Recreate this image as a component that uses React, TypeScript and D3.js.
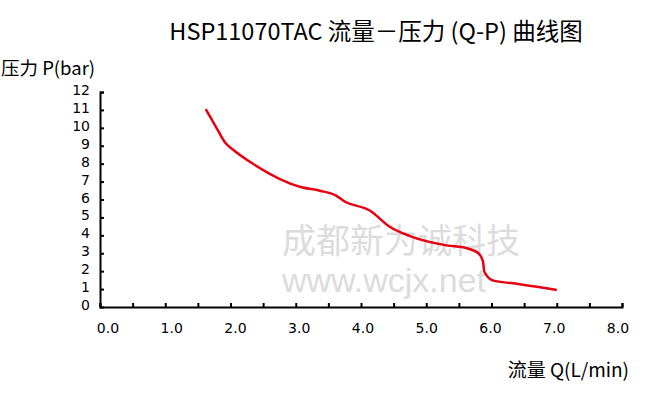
import { useRef, useEffect } from 'react';
import * as d3 from 'd3';

// flow Q (L/min) vs pressure P (bar)
const flowQ = [1.62, 1.77, 1.92, 2.05, 2.35, 3.09, 3.37, 3.63, 3.73, 4.14, 4.44, 4.75, 5.31, 5.62, 5.80, 5.87, 5.89, 6.03, 6.33, 7.0];
const pressureP = [11.05, 10.1, 9.17, 8.75, 7.98, 6.68, 6.49, 6.19, 5.93, 5.37, 4.48, 3.96, 3.44, 3.28, 3.0, 2.53, 1.97, 1.47, 1.32, 0.95];

const xTickValues = d3.range(0, 8.001, 0.5);
const xLabelValues = [0, 1, 2, 3, 4, 5, 6, 7, 8];
const yTickValues = [1, 2, 3, 4, 5, 6, 7, 8, 9, 10, 11, 12];
const yLabelValues = [0, 1, 2, 3, 4, 5, 6, 7, 8, 9, 10, 11, 12];

const title = "HSP11070TAC 流量－压力 (Q-P) 曲线图";
const yTitle = "压力 P(bar)";
const xTitle = "流量 Q(L/min)";
const watermarkCn = "成都新为诚科技";
const watermarkUrl = "www.wcjx.net";

const width = 650;
const height = 398;
const margin = { top: 92, right: 28, bottom: 91, left: 100 };
const font = "'Noto Sans CJK SC', 'Noto Sans', sans-serif";
const tickFont = "'DejaVu Sans', sans-serif";

export default function App() {
  const svgRef = useRef<SVGSVGElement>(null);

  useEffect(() => {
    const svg = d3.select(svgRef.current);
    if (!svg.node()) return;
    svg.selectAll("*").remove();

    const x = d3.scaleLinear().domain([0, 8]).range([margin.left, width - margin.right]);
    const y = d3.scaleLinear().domain([0, 12]).range([height - margin.bottom, margin.top]);
    // tick labels in the source sit slightly inset from the ticks
    const xLabel = d3.scaleLinear().domain([0, 8]).range([108, 618]);

    // watermark
    svg.append("text")
      .attr("x", 282)
      .attr("y", 253)
      .style("font-family", font)
      .style("font-size", "34px")
      .style("fill", "#dcdcdc")
      .text(watermarkCn);
    svg.append("text")
      .attr("x", 282)
      .attr("y", 292)
      .style("font-family", "'Liberation Sans', Arial, sans-serif")
      .style("font-size", "34px")
      .style("fill", "#dcdcdc")
      .text(watermarkUrl);

    // axes
    const xAxis = d3.axisBottom(x)
      .tickValues(xTickValues)
      .tickSize(-4)
      .tickFormat(() => "");
    const gx = svg.append("g")
      .attr("transform", `translate(0, ${y(0)})`)
      .call(xAxis);
    gx.selectAll("path, line").attr("stroke", "#000").attr("stroke-width", 2);

    const yAxis = d3.axisLeft(y)
      .tickValues(yTickValues)
      .tickSize(-4)
      .tickFormat(() => "");
    const gy = svg.append("g")
      .attr("transform", `translate(${x(0)}, 0)`)
      .call(yAxis);
    gy.selectAll("path, line").attr("stroke", "#000").attr("stroke-width", 2);

    // tick labels
    svg.append("g")
      .selectAll("text")
      .data(xLabelValues)
      .enter()
      .append("text")
      .attr("x", d => xLabel(d))
      .attr("y", 333)
      .attr("text-anchor", "middle")
      .style("font-family", tickFont)
      .style("font-size", "14px")
      .style("fill", "#000")
      .text(d => d.toFixed(1));

    svg.append("g")
      .selectAll("text")
      .data(yLabelValues)
      .enter()
      .append("text")
      .attr("x", 90)
      .attr("y", d => y(d) - 2)
      .attr("dy", "0.36em")
      .attr("text-anchor", "end")
      .style("font-family", tickFont)
      .style("font-size", "14px")
      .style("fill", "#000")
      .text(d => String(d));

    // curve
    const pts: [number, number][] = flowQ.map((q, i) => [q, pressureP[i]]);
    const line = d3.line<[number, number]>()
      .x(d => x(d[0]))
      .y(d => y(d[1]))
      .curve(d3.curveMonotoneX);
    svg.append("path")
      .datum(pts)
      .attr("d", line)
      .attr("fill", "none")
      .attr("stroke", "#e60012")
      .attr("stroke-width", 2.5);

    // titles
    svg.append("text")
      .attr("x", 376)
      .attr("y", 40)
      .attr("text-anchor", "middle")
      .style("font-family", font)
      .style("font-size", "23.5px")
      .style("fill", "#000")
      .text(title);

    svg.append("text")
      .attr("x", 1)
      .attr("y", 75)
      .style("font-family", font)
      .style("font-size", "18.5px")
      .style("fill", "#000")
      .text(yTitle);

    svg.append("text")
      .attr("x", 629)
      .attr("y", 377)
      .attr("text-anchor", "end")
      .style("font-family", font)
      .style("font-size", "19px")
      .style("fill", "#000")
      .text(xTitle);
  }, []);

  return (
    <svg
      ref={svgRef}
      width={width}
      height={height}
      style={{ position: "absolute", left: 0, top: 0, background: "#fff" }}
    />
  );
}
